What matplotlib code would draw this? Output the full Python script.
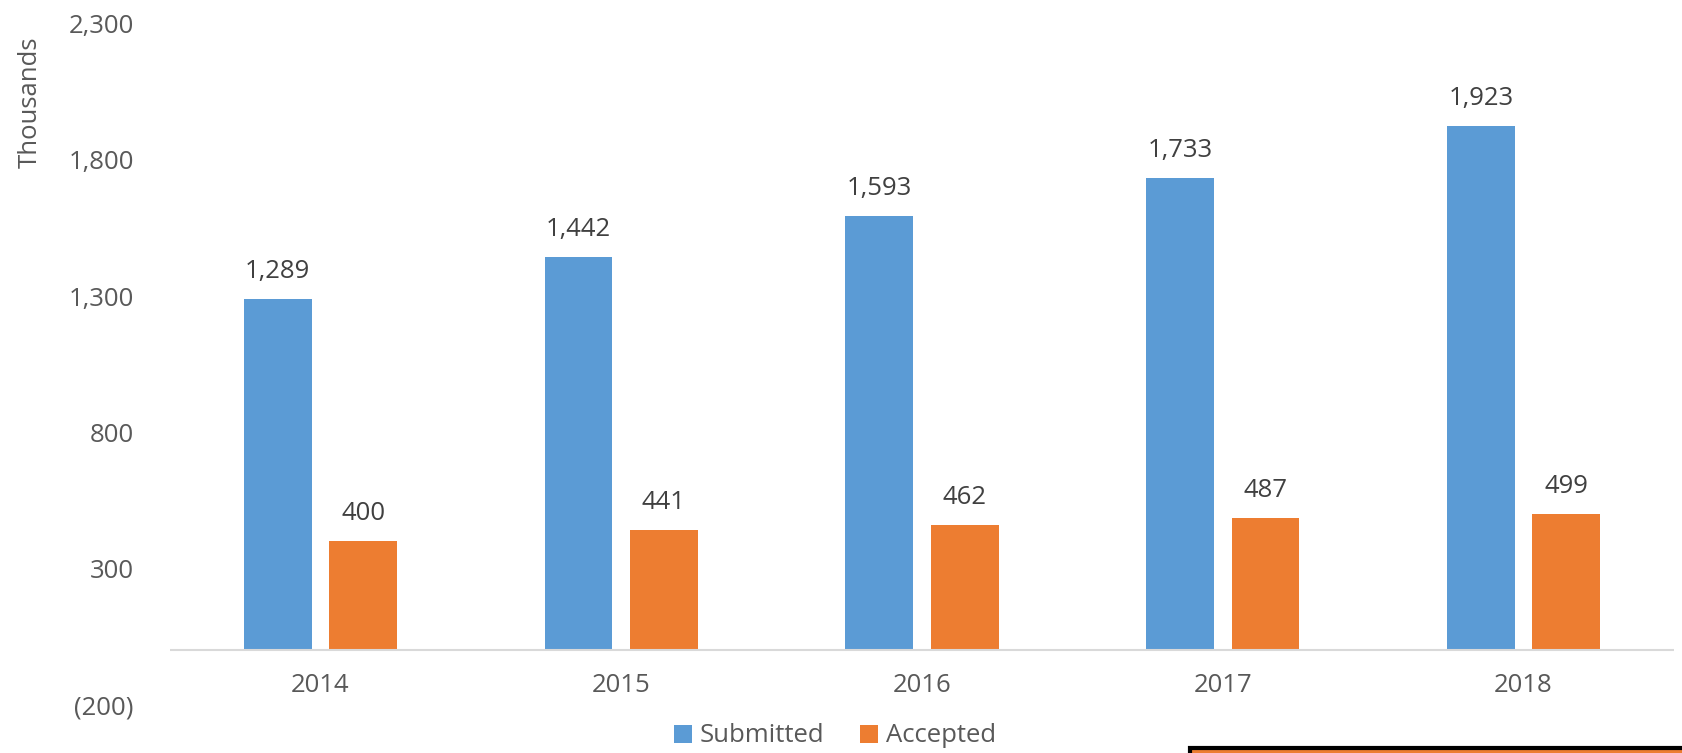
import matplotlib
matplotlib.use("Agg")
import matplotlib.pyplot as plt
import numpy as np
from matplotlib.patches import Rectangle
from matplotlib.ticker import FuncFormatter

plt.rcParams['font.family'] = ['Open Sans', 'DejaVu Sans']

years = ['2014', '2015', '2016', '2017', '2018']
submitted = [1289, 1442, 1593, 1733, 1923]
accepted = [400, 441, 462, 487, 499]
yticks = [-200, 300, 800, 1300, 1800, 2300]

blue = '#5B9BD5'
orange = '#ED7D31'
tick_col = '#595959'
lab_col = '#404040'
fs = 18.5

fig = plt.figure(figsize=(16.83, 7.53), dpi=100)
ax = fig.add_axes([170 / 1683, 1 - 705 / 753, (1674 - 170) / 1683, (705 - 23.6) / 753])

x = np.arange(len(years))
w = 0.225
off = 0.142
b1 = ax.bar(x - off, submitted, w, color=blue, label='Submitted')
b2 = ax.bar(x + off, accepted, w, color=orange, label='Accepted')

for bars, vals in ((b1, submitted), (b2, accepted)):
  for r, v in zip(bars, vals):
    ax.text(r.get_x() + r.get_width() / 2, v + 55, '{:,}'.format(v),
            ha='center', va='bottom', fontsize=fs, color=lab_col)

ax.set_xlim(-0.5, len(years) - 0.5)
ax.set_ylim(-200, 2300)
ax.set_yticks(yticks)
ax.yaxis.set_major_formatter(FuncFormatter(
  lambda v, p: '({:,.0f})'.format(-v) if v < 0 else '{:,.0f}'.format(v)))
ax.tick_params(axis='y', length=0, labelsize=fs, labelcolor=tick_col, pad=26)

# category labels sit below the plot area, near the bottom
ax.set_xticks([])
for i, y in enumerate(years):
  ax.text(i, -128, y, ha='center', va='center', fontsize=fs, color=tick_col)

for s in ax.spines.values():
  s.set_visible(False)
ax.axhline(0, color='#D9D9D9', linewidth=1.5)

fig.text(30 / 1683, 1 - 102 / 753, 'Thousands', rotation=90, ha='center', va='center',
         fontsize=fs, color=tick_col)

leg = fig.legend(handles=[b1, b2], loc='center', bbox_to_anchor=(835 / 1683, 1 - 736 / 753),
                 ncol=2, frameon=False, fontsize=fs, handlelength=0.7, handleheight=0.7,
                 columnspacing=1.4, handletextpad=0.3)
for t in leg.get_texts():
  t.set_color(tick_col)

# stray shape cut off at the bottom right
fig.patches.append(Rectangle((1190 / 1683, -0.05), 0.4, (753 - 748) / 753 + 0.05,
                             transform=fig.transFigure, facecolor=orange,
                             edgecolor='black', linewidth=3))

fig.savefig('out.png', dpi=100)
